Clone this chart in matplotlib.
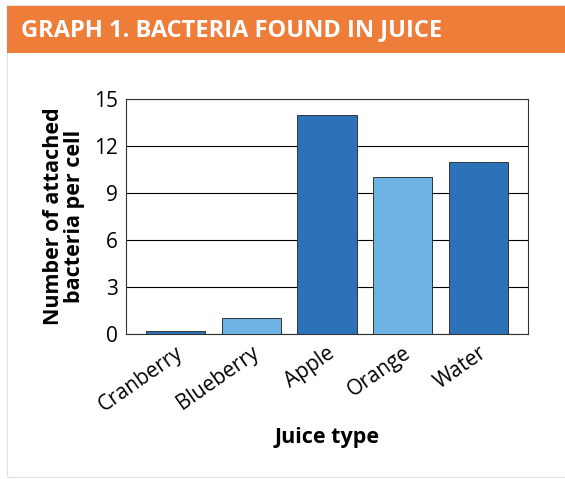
import matplotlib.pyplot as plt
from matplotlib.patches import Rectangle

# Bacteria counts by juice type
juices = ["Cranberry", "Blueberry", "Apple", "Orange", "Water"]
bacteria = [0.2, 1.0, 14.0, 10.0, 11.0]
bar_colors = ["#2b72b8", "#6db3e3", "#2b72b8", "#6db3e3", "#2b72b8"]
yticks = [0, 3, 6, 9, 12, 15]

plt.rcParams["font.family"] = ["Open Sans", "DejaVu Sans"]

fig = plt.figure(figsize=(5.65, 4.79), dpi=100)
W, H = 565, 479

# Panel outline and orange title banner
fig.patches.append(Rectangle((7 / W, 2 / H), 1, 472 / H, transform=fig.transFigure,
                             facecolor="white", edgecolor="#e2e2e2", lw=0.8, zorder=-2))
fig.patches.append(Rectangle((7 / W, (H - 53) / H), 1, 47 / H, transform=fig.transFigure,
                             facecolor="#ee7d3a", edgecolor="none", zorder=-1))
fig.text(21 / W, (H - 30) / H, "GRAPH 1. BACTERIA FOUND IN JUICE", color="white",
         fontsize=17, fontweight="bold", va="center", ha="left")

ax = fig.add_axes([126 / W, (H - 334) / H, 402 / W, 235 / H])
ax.bar(range(len(juices)), bacteria, width=0.78, color=bar_colors,
       edgecolor="#333333", linewidth=0.7, zorder=3)

ax.set_xlim(-0.65, 4.65)
ax.set_ylim(0, 15)
ax.set_yticks(yticks)
ax.yaxis.grid(True, color="black", linewidth=0.8, zorder=0)
ax.set_axisbelow(True)
for s in ax.spines.values():
    s.set_color("#333333")
    s.set_linewidth(0.8)

ax.set_xticks(range(len(juices)))
ax.set_xticklabels(juices, rotation=35, ha="right", rotation_mode="anchor", fontsize=15)
ax.tick_params(axis="x", length=0, pad=6)
ax.tick_params(axis="y", length=0, pad=6, labelsize=15)

ax.set_xlabel("Juice type", fontsize=15.5, fontweight="bold", labelpad=8)
ax.set_ylabel("Number of attached\nbacteria per cell", fontsize=15.5, fontweight="bold",
              labelpad=6, linespacing=1.05)

plt.savefig("out.png", dpi=100)
